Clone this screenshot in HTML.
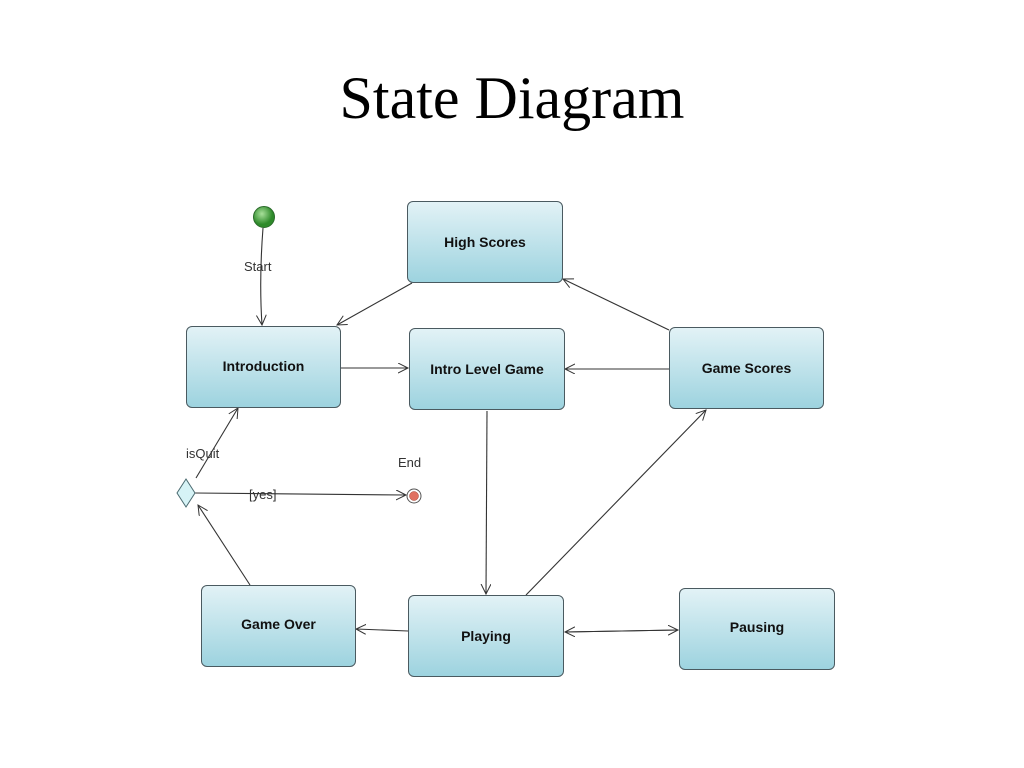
<!DOCTYPE html>
<html><head><style>
body{margin:0;background:#fff;width:1024px;height:768px;overflow:hidden;position:relative;font-family:"Liberation Sans",sans-serif}
.t{position:absolute;left:0;width:1024px;top:64px;text-align:center;font-family:"Liberation Serif",serif;font-size:60px;color:#000}
.b{position:absolute;box-sizing:border-box;border:1px solid #4a5a60;border-radius:6px;background:linear-gradient(#e2f2f6,#9dd3df);font-weight:bold;font-size:14px;color:#111;display:flex;align-items:center;justify-content:center}
.l{position:absolute;font-size:13px;color:#333}
</style></head><body>
<div class="t">State Diagram</div>
<svg width="1024" height="768" style="position:absolute;left:0;top:0">
<defs>
<marker id="a" markerWidth="12" markerHeight="12" refX="10" refY="5" orient="auto" markerUnits="userSpaceOnUse"><path d="M0,0 L10,5 L0,10" fill="none" stroke="#333" stroke-width="1"/></marker>
<radialGradient id="g" cx="40%" cy="35%"><stop offset="0" stop-color="#a8e09a"/><stop offset="1" stop-color="#2e8a2a"/></radialGradient>
</defs>
<g stroke="#333" stroke-width="1.1" fill="none">
<path d="M263,228 Q259,280 262,325" marker-end="url(#a)"/>
<line x1="412" y1="283" x2="337" y2="325" marker-end="url(#a)"/>
<line x1="341" y1="368" x2="408" y2="368" marker-end="url(#a)"/>
<line x1="669" y1="369" x2="565" y2="369" marker-end="url(#a)"/>
<line x1="669" y1="330" x2="563" y2="279" marker-end="url(#a)"/>
<line x1="487" y1="411" x2="486" y2="594" marker-end="url(#a)"/>
<line x1="526" y1="595" x2="706" y2="410" marker-end="url(#a)"/>
<line x1="408" y1="631" x2="356" y2="629" marker-end="url(#a)"/>
<line x1="565" y1="632" x2="678" y2="630" marker-end="url(#a)"/>
<line x1="678" y1="630" x2="565" y2="632" marker-end="url(#a)"/>
<line x1="250" y1="585" x2="198" y2="505" marker-end="url(#a)"/>
<line x1="196" y1="478" x2="238" y2="408" marker-end="url(#a)"/>
<line x1="195" y1="493" x2="406" y2="495" marker-end="url(#a)"/>
</g>
<circle cx="264" cy="217" r="10.5" fill="url(#g)" stroke="#2a6a2a"/>
<polygon points="186,479 195,493 186,507 177,493" fill="#d6f3f6" stroke="#4a6a70"/>
<circle cx="414" cy="496" r="7" fill="#fff" stroke="#555"/>
<circle cx="414" cy="496" r="4.5" fill="#e07060" stroke="#a04030" stroke-width="0.5"/>
</svg>
<div class="l" style="left:244px;top:259px">Start</div>
<div class="l" style="left:186px;top:446px">isQuit</div>
<div class="l" style="left:398px;top:455px">End</div>
<div class="l" style="left:249px;top:487px">[yes]</div>
<div class="b" style="left:407px;top:201px;width:156px;height:82px">High Scores</div>
<div class="b" style="left:186px;top:326px;width:155px;height:82px;padding-bottom:2px">Introduction</div>
<div class="b" style="left:409px;top:328px;width:156px;height:82px">Intro Level Game</div>
<div class="b" style="left:669px;top:327px;width:155px;height:82px">Game Scores</div>
<div class="b" style="left:201px;top:585px;width:155px;height:82px;padding-bottom:4px">Game Over</div>
<div class="b" style="left:408px;top:595px;width:156px;height:82px">Playing</div>
<div class="b" style="left:679px;top:588px;width:156px;height:82px;padding-bottom:4px">Pausing</div>
</body></html>
